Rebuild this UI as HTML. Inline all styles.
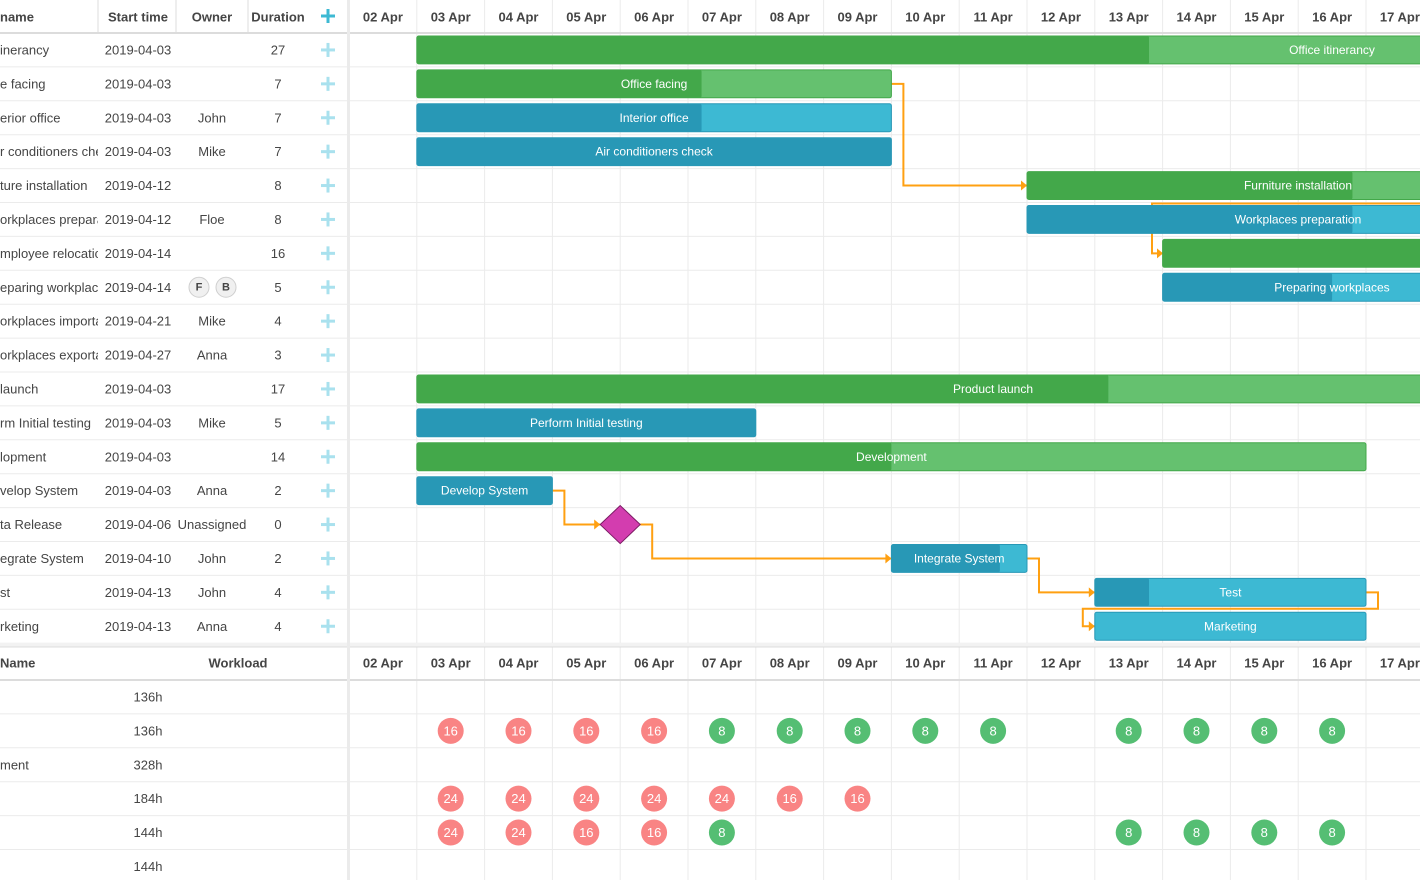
<!DOCTYPE html>
<html><head><meta charset="utf-8"><style>
body{margin:0;width:1420px;height:880px;overflow:hidden;background:#fff;font-family:"Liberation Sans",Arial,sans-serif;color:#454545;font-size:13px;position:relative}
.a{position:absolute;white-space:nowrap}
.hd{font-weight:bold}
</style></head><body>
<svg id="g" width="1420" height="880" style="position:absolute;left:0;top:0"></svg>
<script>
const days=["02 Apr","03 Apr","04 Apr","05 Apr","06 Apr","07 Apr","08 Apr","09 Apr","10 Apr","11 Apr","12 Apr","13 Apr","14 Apr","15 Apr","16 Apr","17 Apr"];
const taskNames=["inerancy","e facing","erior office","r conditioners chec","ture installation","orkplaces preparat","mployee relocatic","eparing workplace","orkplaces importat","orkplaces exportat"," launch","rm Initial testing","lopment","velop System","ta Release","egrate System","st","rketing"];
const barLabels=["Office itinerancy","Office facing","Interior office","Air conditioners check","Furniture installation","Workplaces preparation","","Preparing workplaces","","","Product launch","Perform Initial testing","Development","Develop System","Beta Release","Integrate System","Test","Marketing"];
const startTimes=["2019-04-03","2019-04-03","2019-04-03","2019-04-03","2019-04-12","2019-04-12","2019-04-14","2019-04-14","2019-04-21","2019-04-27","2019-04-03","2019-04-03","2019-04-03","2019-04-03","2019-04-06","2019-04-10","2019-04-13","2019-04-13"];
const owners=["","","John","Mike","","Floe","","FB","Mike","Anna","","Mike","","Anna","Unassigned","John","John","Anna"];
const durations=[27,7,7,7,8,8,16,5,4,3,17,5,14,2,0,2,4,4];
const startDay=[1,1,1,1,10,10,12,12,19,25,1,1,1,1,4,8,11,11];
const progress=[0.4,0.6,0.6,1,0.6,0.6,0.5,0.5,0,0,0.6,1,0.5,1,0,0.8,0.2,0];
const taskType=["p","p","t","t","p","t","p","t","t","t","p","t","p","t","m","t","t","t"];
const resNames=["","","ment","","",""];
const workload=["136h","136h","328h","184h","144h","144h"];
const resLoad=[
 [0,0,0,0,0,0,0,0,0,0,0,0,0,0,0,0],
 [0,16,16,16,16,8,8,8,8,8,0,8,8,8,8,0],
 [0,0,0,0,0,0,0,0,0,0,0,0,0,0,0,0],
 [0,24,24,24,24,24,16,16,0,0,0,0,0,0,0,0],
 [0,24,24,16,16,8,0,0,0,0,0,8,8,8,8,0],
 [0,0,0,0,0,0,0,0,0,0,0,0,0,0,0,0]];
const links=[[1,4],[13,14],[14,15],[15,16],[16,17]];

const X0=349,DW=67.8,TOP=33,RH=33.9,RTOP=680,RRH=33.9;
const xd=d=>X0+d*DW;
const yr=i=>TOP+i*RH;
const svg=document.getElementById('g');
const NS="http://www.w3.org/2000/svg";
function el(t,a,p){const e=document.createElementNS(NS,t);for(const k in a)e.setAttribute(k,a[k]);(p||svg).appendChild(e);return e;}
function tx(s,x,y,a){const e=el('text',Object.assign({x:x,y:y,'font-size':13,fill:'#454545','dominant-baseline':'central'},a||{}));e.textContent=s;return e;}
// grid lines
for(let i=0;i<=days.length;i++){const l=el('line',{x1:xd(i),x2:xd(i),y1:0,y2:880,stroke:'#ebebeb'});

}
for(let i=0;i<=taskNames.length;i++){el('line',{x1:0,x2:1420,y1:yr(i),y2:yr(i),stroke:'#ebebeb'});}
for(let i=0;i<=workload.length;i++){el('line',{x1:0,x2:1420,y1:RTOP+i*RRH,y2:RTOP+i*RRH,stroke:'#ebebeb'});}
el('line',{x1:0,x2:1420,y1:TOP,y2:TOP,stroke:'#dcdcdc','stroke-width':2});
el('rect',{x:0,y:643,width:1420,height:4,fill:'#f2f2f2'});
el('line',{x1:0,x2:1420,y1:647,y2:647,stroke:'#dcdcdc'});
el('line',{x1:0,x2:1420,y1:RTOP,y2:RTOP,stroke:'#dcdcdc','stroke-width':2});
el('rect',{x:347,y:0,width:3,height:880,fill:'#ebebeb'});
[98,176,248].forEach(x=>el('line',{x1:x,x2:x,y1:0,y2:TOP,stroke:'#dcdcdc'}));
// headers
const hdr=[["name",0,'start'],["Start time",138,'middle'],["Owner",212,'middle'],["Duration",278,'middle']];
hdr.forEach(h=>{const t=tx(h[0],h[1],17,{'font-weight':'bold','text-anchor':h[2]});

});
function plus(x,y,c){const g=el('g',{});el('rect',{x:x-7,y:y-1.5,width:14,height:3,fill:c},g);el('rect',{x:x-1.5,y:y-7,width:3,height:14,fill:c},g);return g;}
const ap=plus(328,16,'#3db9d3');
days.forEach((d,i)=>{const t=tx(d,xd(i)+DW/2,17,{'font-weight':'bold','text-anchor':'middle'});


const t2=tx(d,xd(i)+DW/2,663,{'font-weight':'bold','text-anchor':'middle'});

});
// grid rows
const clip=el('clipPath',{id:'nc'});el('rect',{x:0,y:0,width:98,height:880},clip);
taskNames.forEach((n,i)=>{const cy=yr(i)+RH/2;
const t=tx(n,0,cy,{'clip-path':'url(#nc)'});


tx(startTimes[i],138,cy,{'text-anchor':'middle'});
if(owners[i]==="FB"){[["F",199],["B",226]].forEach(o=>{el('circle',{cx:o[1],cy:cy,r:10,fill:'#f0f0f0',stroke:'#cfcfcf'});tx(o[0],o[1],cy,{'text-anchor':'middle','font-size':11,'font-weight':'bold'});});}
else tx(owners[i],212,cy,{'text-anchor':'middle'});
tx(String(durations[i]),278,cy,{'text-anchor':'middle'});
const p=plus(328,cy,'#a9e1ee');

});
// links
const LC='#ffa011';
function arrowTo(x,y){el('path',{d:`M${x-6} ${y-5}L${x} ${y}L${x-6} ${y+5}Z`,fill:LC});}
links.forEach(l=>{const a=l[0],b=l[1];
const ex=xd(startDay[a]+durations[a])+(taskType[a]==='m'?20:0), ey=yr(a)+RH/2;
let sx=xd(startDay[b])-(taskType[b]==='m'?20:0); const sy=yr(b)+RH/2;
let d;
if(sx>ex+24) d=`M${ex} ${ey}H${ex+12}V${sy}H${sx}`;
else d=`M${ex} ${ey}H${ex+12}V${yr(a)+RH-0.5}H${sx-12}V${sy}H${sx}`;
const p=el('path',{d:d,fill:'none',stroke:LC,'stroke-width':2});


arrowTo(sx,sy);});
el('path',{d:`M1420 ${yr(5)+1}H1152V${yr(6)+RH/2}H1163`,fill:'none',stroke:LC,'stroke-width':2});arrowTo(1163,yr(6)+RH/2);
// bars
const COL={p:['#43a84a','#65c16f'],t:['#2898b6','#3db9d3']};
barLabels.forEach((lab,i)=>{const cy=yr(i)+RH/2;
if(taskType[i]==='m'){const mx=xd(startDay[i]);
const m=el('path',{d:`M${mx} ${cy-19}L${mx+20} ${cy}L${mx} ${cy+19}L${mx-20} ${cy}Z`,fill:'#d33daf',stroke:'#7a1b63','stroke-width':1});

return;}
const x=xd(startDay[i]),w=durations[i]*DW,y=yr(i)+3,h=RH-6,c=COL[taskType[i]];
const g=el('g',{});


el('rect',{x:x,y:y,width:w,height:h,rx:2,fill:c[1],stroke:c[0]},g);
el('rect',{x:x,y:y,width:w*progress[i],height:h,rx:2,fill:c[0]},g);
if(lab){const t=tx(lab,Math.min(x+w/2,x+w/2),cy,{'text-anchor':'middle',fill:'#fff','font-size':12},);
if(x+w>1420){t.setAttribute('x',Math.min(x+w/2, i===0?1332:i===10?993:1300));
if(i===4||i===5)t.setAttribute('x',1298);if(i===7)t.setAttribute('x',1332);}
g.appendChild(t);}});
// resource panel
tx("Name",0,663,{'font-weight':'bold'});tx("Workload",238,663,{'font-weight':'bold','text-anchor':'middle'});
workload.forEach((w,i)=>{const cy=RTOP+i*RRH+RRH/2;
tx(resNames[i],0,cy);tx(w,148,cy,{'text-anchor':'middle'});
resLoad[i].forEach((v,d)=>{if(!v)return;
const c=el('circle',{cx:xd(d)+DW/2,cy:cy,r:13,fill:v>8?'#f98484':'#55be73'});


tx(String(v),xd(d)+DW/2,cy,{'text-anchor':'middle',fill:'#fff','font-size':13});});});
</script>
</body></html>
